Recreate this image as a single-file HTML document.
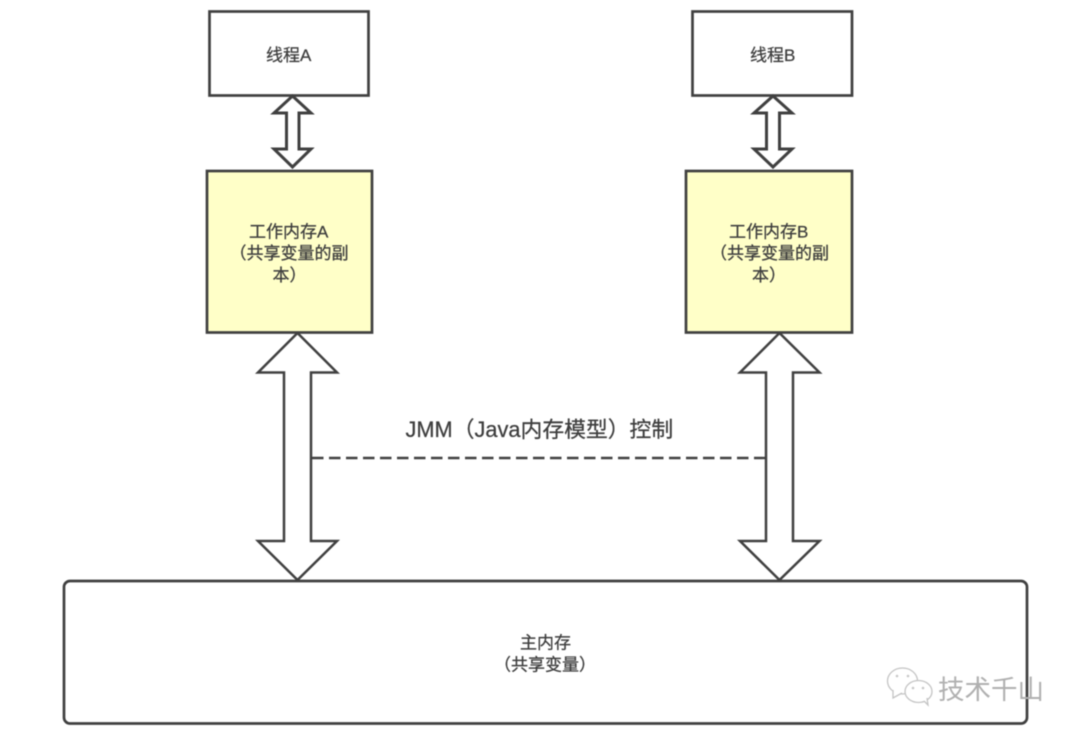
<!DOCTYPE html>
<html><head><meta charset="utf-8">
<style>
html,body{margin:0;padding:0;background:#fff;width:1080px;height:737px;overflow:hidden}
svg{display:block;filter:blur(.45px)}
text{font-family:"Liberation Sans","Noto Sans CJK SC",sans-serif;fill:#3d3d3d;stroke:#3d3d3d;stroke-width:.25px;font-size:17px}
</style></head><body>
<svg width="1080" height="737" viewBox="0 0 1080 737" xmlns="http://www.w3.org/2000/svg">
<g fill="#fff" stroke="#404040" stroke-width="2.7" stroke-linejoin="miter">
<rect x="209.5" y="11.500" width="159" height="84"/>
<rect x="692.5" y="11.500" width="159.500" height="84"/>
<rect x="207" y="171" width="165" height="161.500" fill="#ffffc8"/>
<rect x="686" y="171" width="166" height="161.500" fill="#ffffc8"/>
<rect x="64" y="581" width="963" height="142.500" rx="6" ry="6"/>
<path stroke-width="3" d="M292.500 96 L311 113 H299 V149 H311 L292.500 167 L274 149 H286.500 V113 H274 Z"/>
<path stroke-width="3" d="M773 96 L792 113 H779.500 V149 H792 L773 167 L754 149 H766.500 V113 H754 Z"/>
<path stroke-width="2.500" d="M297.500 333 L337 372.500 H311 V541 H337 L297.500 580 L258 541 H284 V372.500 H258 Z"/>
<path stroke-width="2.500" d="M779.500 333 L819.500 372.500 H793 V541 H819.500 L779.500 580 L740 541 H766 V372.500 H740 Z"/>
</g>
<line x1="312" y1="458" x2="766" y2="458" stroke="#404040" stroke-width="2.400" stroke-dasharray="11.500 5.500"/>
<text x="266" y="61">线程A</text>
<text x="750" y="61">线程B</text>
<text x="249" y="237.500">工作内存A</text>
<text x="229.500" y="259">（共享变量的副</text>
<text x="272.500" y="281">本）</text>
<text x="729" y="237.500">工作内存B</text>
<text x="710" y="259">（共享变量的副</text>
<text x="752" y="281">本）</text>
<text x="405.500" y="437" style="font-size:21.800px">JMM（Java内存模型）控制</text>
<text x="520" y="648.500">主内存</text>
<text x="494" y="670.500">（共享变量）</text>
<g fill="#fff" stroke="#c4c4c4" stroke-width="1.300">
<ellipse cx="902.500" cy="681" rx="15" ry="13"/>
<path d="M893 690 L893 698 L902 693" />
<ellipse cx="918.500" cy="691.500" rx="13.500" ry="11"/>
<path d="M924 701 L928 705 L927 698"/>
</g>
<g fill="#c8c8c8">
<circle cx="897" cy="676" r="1.300"/><circle cx="908" cy="676" r="1.300"/>
<circle cx="913" cy="688" r="1.300"/><circle cx="923" cy="688" r="1.300"/>
</g>
<text x="938" y="699" style="font-size:26.500px;fill:#b0b0b0;stroke:none">技术千山</text>
</svg>
</body></html>
